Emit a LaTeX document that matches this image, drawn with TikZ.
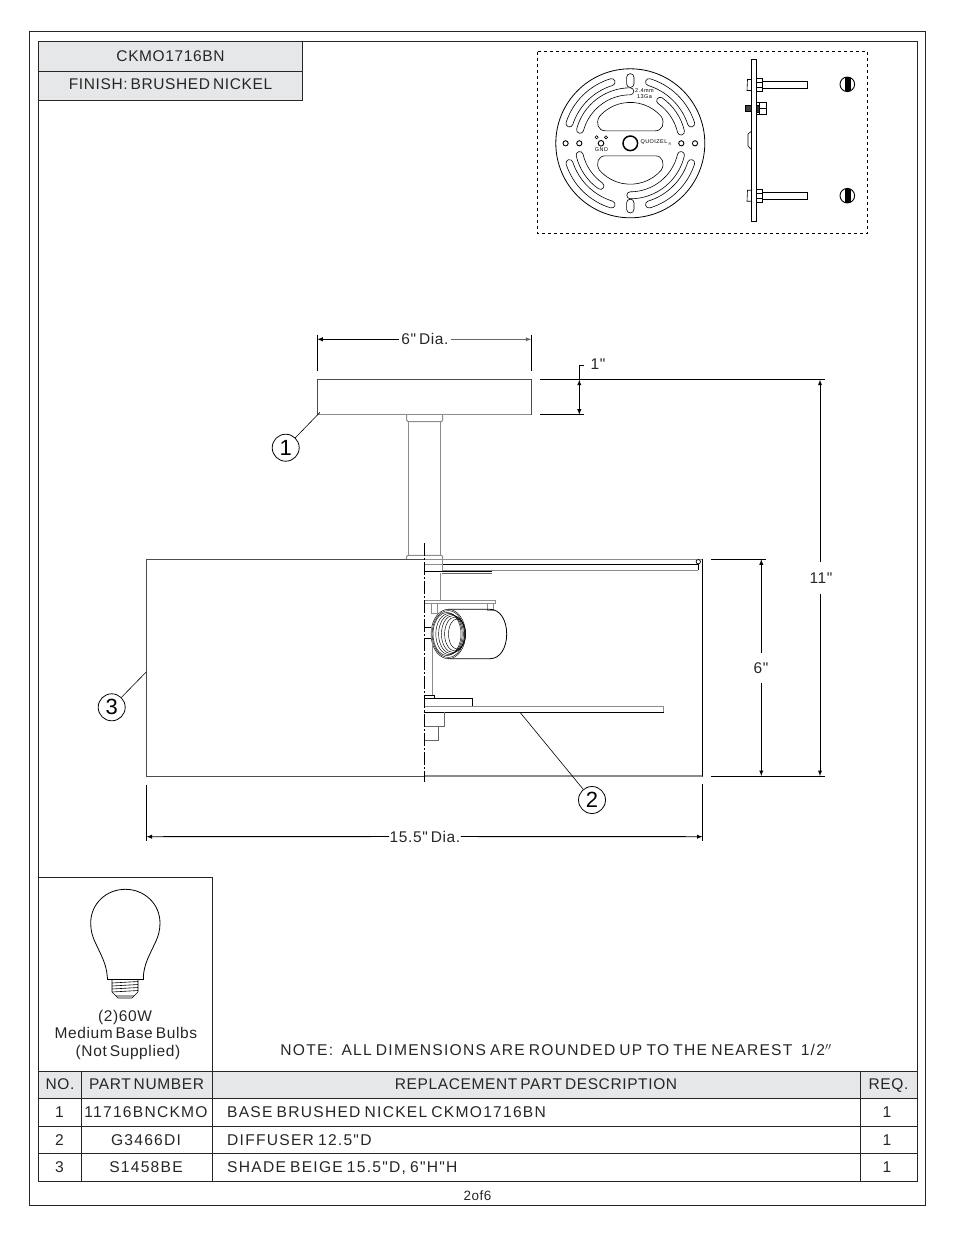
\documentclass[tikz,border=0pt]{standalone}
\usepackage{fontspec}
\setmainfont[LetterSpace=8,WordSpace=0.75]{Liberation Sans}
\newfontfamily\bodyfont[LetterSpace=8,WordSpace=0.75]{Liberation Sans}
\newfontfamily\tightfont[LetterSpace=4,WordSpace=0.6]{Liberation Sans}
\usepackage{tikz}
\definecolor{headgray}{HTML}{E6E7E8}
\definecolor{partgray}{HTML}{8C8C8C}
\newcommand{\plateslot}[3]{
\draw[thin] (#2:#1+3.5) arc[start angle=#2, end angle=#3, radius=#1+3.5]
  arc[start angle=#3, end angle=#3+180, radius=3.5]
  arc[start angle=#3, end angle=#2, radius=#1-3.5]
  arc[start angle=#2+180, end angle=#2+360, radius=3.5];
}
\tikzset{
  lbl/.style={anchor=base, inner sep=0pt, font=\bodyfont\fontsize{15.6}{18}\selectfont, text=black!85},
  lblw/.style={lbl, anchor=base west},
  headlbl/.style={anchor=base, inner sep=0pt, font=\tightfont\fontsize{15.5}{18}\selectfont, text=black!85},
  dimlbl/.style={inner sep=2pt, font=\tightfont\fontsize{15.5}{18}\selectfont, text=black!85},
  callout/.style={draw, circle, line width=0.8pt, minimum size=27pt, inner sep=0pt, font=\fontsize{22}{24}\selectfont},
  frame/.style={line width=1pt, draw=black!85},
  dimline/.style={line width=0.9pt, >=latex},
  part/.style={line width=1pt},
  partg/.style={line width=1pt, draw=partgray},
  thin/.style={line width=0.6pt},
  thread/.style={line width=0.45pt}
}
\begin{document}
\begin{tikzpicture}[x=1pt, y=-1pt]
\useasboundingbox (0,0) rectangle (954,1235);
\draw[frame] (29,31) rectangle (925,1205);
\draw[frame] (38,41) rectangle (917,1181);

\filldraw[frame, fill=headgray] (38,41) rectangle (302,100.5);
\draw[frame] (38,71) -- (302,71);
\node[headlbl] (modelno) at (170.5,61) {CKMO1716BN};
\node[headlbl] (finish) at (170.5,89) {FINISH: BRUSHED NICKEL};

\draw[line width=0.9pt, dashed] (537.5,51.5) rectangle (867.5,233);
\begin{scope}[shift={(630.3,143.3)}, yscale=-1]
\draw[line width=0.8pt] (0,0) circle (74.5);
\draw[line width=1.5pt] (0,0) circle (7.3);
\plateslot{64}{107}{162}
\plateslot{64}{18}{73}
\plateslot{64}{198}{253}
\plateslot{64}{287}{342}
\plateslot{52}{90}{165}
\plateslot{52}{13}{55}
\plateslot{52}{193}{235}
\plateslot{52}{270}{347}
\draw[thin] (-3.7,59.5) -- (-3.7,66) arc[start angle=180, end angle=0, radius=3.7] -- (3.7,59.5) arc[start angle=0, end angle=-180, radius=3.7] -- cycle;
\draw[thin] (-3.7,-59.5) -- (-3.7,-66) arc[start angle=180, end angle=360, radius=3.7] -- (3.7,-59.5) arc[start angle=0, end angle=180, radius=3.7] -- cycle;
\draw[thin] (-25,12.5) -- (25,12.5) .. controls (32,12.5) and (35,20) .. (31,26.8) arc[start angle=41, end angle=139, radius=41] .. controls (-35,20) and (-32,12.5) .. (-25,12.5);
\draw[thin] (-25,-12.5) -- (25,-12.5) .. controls (32,-12.5) and (35,-20) .. (31,-26.8) arc[start angle=-41, end angle=-139, radius=41] .. controls (-35,-20) and (-32,-12.5) .. (-25,-12.5);
\foreach \holex in {-64.7,-51,51,64.7} {
  \draw[line width=0.9pt] (\holex,0) circle (2.6);
}
\draw[line width=0.9pt] (-29.3,0) circle (2.8);
\draw[thin] (-33.7,6) circle (1.6);
\draw[thin] (-24.3,6) circle (1.6);
\end{scope}
\node[inner sep=0pt, font=\fontsize{5.5}{6}\selectfont, align=center] (gauge) at (644.5,94) {2.4mm\\13Ga};
\node[inner sep=0pt, font=\fontsize{5.5}{6}\selectfont] (gnd) at (601.5,150) {GND};
\node[inner sep=0pt, font=\fontsize{5.5}{6}\selectfont] (brand) at (654,142.5) {QUOIZEL};
\node[inner sep=0pt, font=\fontsize{3.5}{4}\selectfont] (regmark) at (670,144) {R};

\draw[line width=0.9pt] (751.7,59.3) rectangle (756,221.7);
\draw[thin] (751.7,131) -- (748,134) -- (748,146) -- (751.7,150);
\foreach \bolty in {85,195.7} {
  \draw[thin] (751.7,\bolty-5.5) -- (747.5,\bolty-5.5) -- (747,\bolty+5.5) -- (751.7,\bolty+5.5);
  \draw[line width=0.9pt] (756,\bolty-6.5) rectangle (762,\bolty+6.5);
  \draw[thin] (756,\bolty-2.5) -- (762,\bolty-2.5) (756,\bolty+2.5) -- (762,\bolty+2.5);
  \draw[thin] (762,\bolty-3.3) rectangle (807.5,\bolty+3.3);
}
\filldraw[thin, fill=black!75] (745,105) rectangle (751.7,111.5);
\draw[line width=0.9pt] (756,102) rectangle (766.5,114.5);
\draw[thin] (759,102) -- (759,114.5) (756,108.3) -- (766.5,108.3);
\filldraw[fill=black!80] (756,105) rectangle (759,112);
\foreach \endy in {84.3,195.7} {
  \begin{scope}
  \draw[line width=0.9pt] (847.3,\endy) circle (7.3);
  \clip (847.3,\endy) circle (7.3);
  \fill[black] (845,\endy-8) rectangle (851,\endy+8);
  \end{scope}
}

\draw[partg] (408.7,421.7) -- (408.7,555.3);
\draw[partg] (440.7,421.7) -- (440.7,555.3);
\draw[partg] (406.5,414.7) -- (406.5,420) -- (408,421.7) -- (441.5,421.7) -- (442.7,420) -- (442.7,414.7);
\draw[partg] (406.5,559) -- (406.5,556.5) -- (408,555.3) -- (441.5,555.3) -- (442.7,556.5) -- (442.7,559);
\draw[part, draw=black!70] (317.3,379.7) rectangle (531.3,414.7);
\draw[partg, line width=1.3pt] (317.3,414.7) -- (531.3,414.7);

\draw[part, draw=black!70] (146.5,559.3) rectangle (702.3,776);
\draw[line width=1.6pt] (702.3,559.3) -- (702.3,776);
\draw[partg, line width=1.3pt] (424.3,776) -- (702.3,776);
\draw[partg, line width=1.3pt] (424.3,559.3) -- (702.3,559.3);

\draw[part] (442,564) -- (698,564);
\draw[partg] (442,570) -- (698,570);
\draw[part] (698,564) -- (698,570);
\filldraw[line width=0.7pt, fill=white] (698.3,561.7) circle (2.2);
\draw[partg] (424.3,564) -- (442,564);
\draw[partg] (442,559.3) -- (442,571);
\draw[line width=1.2pt] (424.3,571.5) -- (491.7,571.5);
\draw[line width=1pt, draw=black!60] (442,573) -- (491.7,573);
\draw[partg] (440,573) -- (440,600.7);
\filldraw[partg, fill=white] (424.3,600.7) rectangle (495.7,603.3);
\draw[partg] (431,603.3) rectangle (437.3,613);
\draw[partg] (487.3,603.3) rectangle (493.3,610);
\draw[line width=0.8pt] (448,609.3) -- (490,609.3) .. controls (500,609.3) and (506.7,620) .. (506.7,634) .. controls (506.7,648) and (500,658.7) .. (490,658.7) -- (448,658.7);
\filldraw[thread, fill=white] (448.3,634) ellipse (17.3 and 24.7);
\draw[thread] (448.3,634) ellipse (16.2 and 23.4);
\draw[thread] (447,634) ellipse (14 and 21.5);
\draw[thread] (449,634) ellipse (13.2 and 20.5);
\draw[thread] (451,634) ellipse (12.4 and 19.5);
\draw[thread] (453,634) ellipse (11.6 and 18.5);
\draw[thread] (455,634) ellipse (10.4 and 17);
\draw[thread] (457,634) ellipse (8.5 and 15);
\draw[part] (424.3,627) -- (431,627) (424.3,638.5) -- (431,638.5);
\draw[partg] (431,627) -- (431,638.5);
\draw[partg] (432.7,641) -- (432.7,695);
\draw[thin] (424.3,695) rectangle (434.3,698.3);
\draw[part] (424.3,698.3) -- (472.3,698.3) -- (472.3,706.7);
\draw[partg] (424.3,706.7) -- (663.7,706.7) -- (663.7,712.3);
\draw[part] (424.3,712.3) -- (663.7,712.3);
\draw[part, draw=black!60] (444.3,712.3) -- (444.3,726) -- (424.3,726);
\draw[part, draw=black!60] (438.3,726) -- (438.3,740) -- (424.3,740);
\draw[line width=0.9pt, dash pattern=on 13pt off 2pt on 2pt off 2pt] (424.3,543) -- (424.3,782);

\node[callout] (callout1) at (285.7,447.7) {1};
\node[callout] (callout2) at (592,800) {2};
\node[callout] (callout3) at (111.7,707.3) {3};
\coordinate (tip1) at (320,412.3);
\coordinate (tip2) at (520,712.3);
\coordinate (tip3) at (146.5,671.7);
\draw[thin] (callout1) -- (tip1);
\draw[thin] (callout2) -- (tip2);
\draw[thin] (callout3) -- (tip3);

\draw[line width=0.9pt] (317.3,334.7) -- (317.3,371.3);
\draw[line width=0.9pt] (531.3,334.7) -- (531.3,371.3);
\node[dimlbl] (topdia) at (425,339.3) {6" Dia.};
\coordinate (topdiaL) at (317.3,339.3);
\coordinate (topdiaR) at (531.3,339.3);
\draw[dimline, ->] (topdia) -- (topdiaL);
\draw[dimline, ->, draw=black!60] (topdia) -- (topdiaR);

\draw[line width=0.9pt] (539.7,379.7) -- (824.7,379.7);
\draw[line width=0.9pt] (539.7,414.7) -- (584,414.7);
\draw[line width=0.9pt] (711,559.3) -- (766,559.3);
\draw[line width=0.9pt] (711,776) -- (824.7,776);
\node[dimlbl, inner sep=0pt] (canopyh) at (598,364) {1"};
\coordinate (canopyT) at (579.3,379.7);
\coordinate (canopyB) at (579.3,414.7);
\draw[dimline, <->] (canopyT) -- (canopyB);
\draw[line width=0.9pt] (584,365.5) -- (579.3,365.5) -- (canopyT);

\node[dimlbl, inner sep=0pt] (overall) at (821,578) {11"};
\coordinate (overallT) at (820,379.7);
\coordinate (overallB) at (820,776);
\coordinate (overallU) at (820,562);
\coordinate (overallD) at (820,593.5);
\draw[dimline, ->] (overallU) -- (overallT);
\draw[dimline, ->] (overallD) -- (overallB);

\node[dimlbl, inner sep=0pt] (shadeh) at (761,668) {6"};
\coordinate (shadeT) at (761.3,559.3);
\coordinate (shadeB) at (761.3,776);
\coordinate (shadeU) at (761.3,652.7);
\coordinate (shadeD) at (761.3,682.7);
\draw[dimline, ->] (shadeU) -- (shadeT);
\draw[dimline, ->] (shadeD) -- (shadeB);

\draw[line width=0.9pt] (146.5,784.7) -- (146.5,841);
\draw[line width=0.9pt] (702.5,784) -- (702.5,841);
\node[dimlbl, inner sep=0.5pt] (shadedia) at (425,836.5) {15.5" Dia.};
\coordinate (shadediaL) at (146.5,836.7);
\coordinate (shadediaR) at (702.5,836.7);
\draw[dimline, ->] (shadedia) -- (shadediaL);
\draw[dimline, ->] (shadedia) -- (shadediaR);

\draw[frame] (38,877) -- (212.5,877) -- (212.5,1071);
\draw[line width=0.8pt] (107.3,977) .. controls (106.5,964) and (101,955) .. (96,944) .. controls (92,936) and (90.7,930) .. (90.7,923) .. controls (90.7,904) and (106,889.3) .. (125.3,889.3) .. controls (144.6,889.3) and (160,904) .. (160,923) .. controls (160,930) and (158.6,936) .. (154.6,944) .. controls (149.6,955) and (144,964) .. (143.3,977);
\draw[thin] (107.3,977) -- (107.3,979) -- (143.3,979) -- (143.3,977);
\draw[thin] (112,979) -- (112,992) -- (118,998) -- (132,998) -- (138,992) -- (138,979);
\draw[thin] (112,983) -- (138,981.5) (112,986) -- (138,984.5) (112,989) -- (138,987.5) (112,992) -- (138,990.5) (116,996) -- (134,996);
\node[headlbl] (bulbqty) at (125,1021.5) {(2)60W};
\node[headlbl] (bulbtype) at (125.8,1038.5) {Medium Base Bulbs};
\node[headlbl] (bulbnote) at (128,1056) {(Not Supplied)};
\node[lbl] (dimnote) at (556,1055.7) {NOTE:\ \ ALL DIMENSIONS ARE ROUNDED UP TO THE NEAREST\ \ 1/2$^{\prime\prime}$};

\filldraw[frame, fill=headgray] (38,1071.5) rectangle (917,1098.5);
\draw[frame] (38,1126) -- (917,1126);
\draw[frame] (38,1153) -- (917,1153);
\draw[frame] (81,1071.5) -- (81,1181);
\draw[frame] (212.5,1071.5) -- (212.5,1181);
\draw[frame] (860,1071.5) -- (860,1181);

\node[headlbl] (headno) at (60,1089) {NO.};
\node[headlbl] (headpart) at (146.5,1089) {PART NUMBER};
\node[headlbl] (headdesc) at (536,1089) {REPLACEMENT PART DESCRIPTION};
\node[headlbl] (headreq) at (888.5,1089) {REQ.};

\node[lbl] (no1) at (59.5,1117.5) {1};
\node[lbl] (part1) at (146,1117.5) {11716BNCKMO};
\node[lblw] (desc1) at (227,1117.5) {BASE BRUSHED NICKEL CKMO1716BN};
\node[lbl] (req1) at (887,1117.5) {1};
\node[lbl] (no2) at (59.5,1145) {2};
\node[lbl] (part2) at (146,1145) {G3466DI};
\node[lblw] (desc2) at (227,1145) {DIFFUSER 12.5"D};
\node[lbl] (req2) at (887,1145) {1};
\node[lbl] (no3) at (59.5,1172) {3};
\node[lbl] (part3) at (146,1172) {S1458BE};
\node[lblw] (desc3) at (227,1172) {SHADE BEIGE 15.5"D, 6"H"H};
\node[lbl] (req3) at (887,1172) {1};

\node[lbl, font=\tightfont\fontsize{13.5}{16}\selectfont] (pageno) at (477.5,1200) {2of6};
\end{tikzpicture}
\end{document}
